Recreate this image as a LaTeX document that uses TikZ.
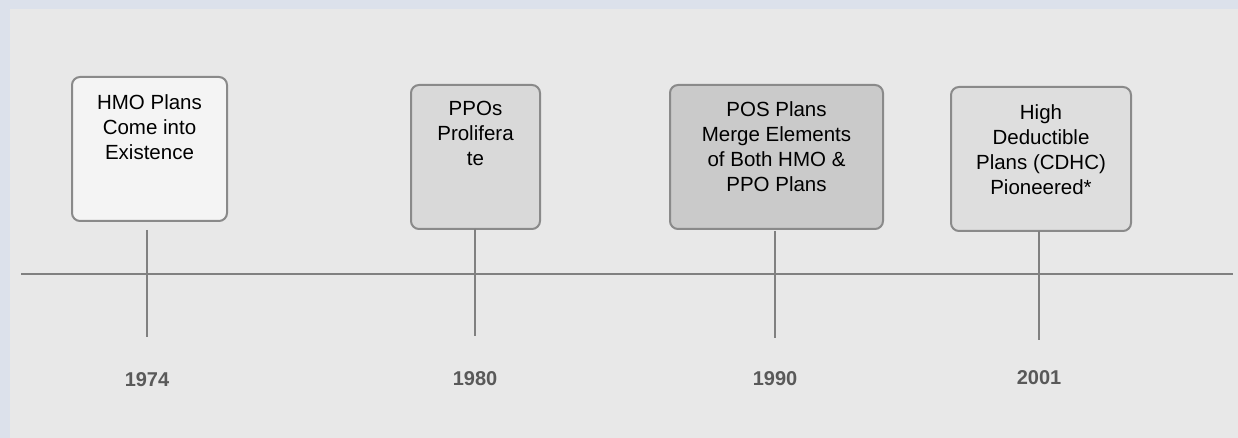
\documentclass[tikz,border=0pt]{standalone}
\usepackage{fontspec}
\setmainfont{Liberation Sans}
\usepackage{tikz}
\usetikzlibrary{positioning}
\usepackage{xcolor}
\definecolor{outerbg}{HTML}{DCE1EB}
\definecolor{panelbg}{HTML}{E8E8E8}
\definecolor{tline}{HTML}{808080}
\definecolor{tborder}{HTML}{8A8A8A}
\definecolor{tyear}{HTML}{595959}
\definecolor{fillA}{HTML}{F4F4F4}
\definecolor{fillB}{HTML}{D9D9D9}
\definecolor{fillC}{HTML}{CACACA}
\definecolor{fillD}{HTML}{DEDEDE}
\tikzset{
  evbox/.style    = {draw=tborder, line width=2pt, rounded corners=8pt,
                     minimum height=144pt, inner sep=0pt},
  evtext/.style   = {align=center, inner sep=0pt,
                     font=\fontsize{20.5}{25}\selectfont},
  yearlbl/.style  = {text=tyear, font=\fontsize{20}{24}\selectfont\bfseries},
  tickline/.style = {draw=tline, line width=2.5pt},
}

\begin{document}
\begin{tikzpicture}[x=1pt,y=-1pt]
% background and panel
\useasboundingbox (0,0) rectangle (1238,438);
\fill[outerbg] (0,0) rectangle (1238,438);
\fill[panelbg] (10,9) rectangle (1238,438);
% time axis
\coordinate (axis-w) at (21,274);
\coordinate (axis-e) at (1233,274);
\draw[tickline] (axis-w) -- (axis-e);
% event boxes, text hung from the top edge
\node[evbox,fill=fillA,minimum width=155pt] (hmo) at (149.5,149) {};
\node[evbox,fill=fillB,minimum width=129pt] (ppo) at (475.5,157) {};
\node[evbox,fill=fillC,minimum width=213pt] (pos) at (776.5,157) {};
\node[evbox,fill=fillD,minimum width=180pt] (hdp) at (1041,159) {};
\node[evtext,below=18pt of hmo.north] {HMO Plans\\Come into\\Existence};
\node[evtext,below=17pt of ppo.north] {PPOs\\Prolifera\\te};
\node[evtext,below=17pt of pos.north] {POS Plans\\Merge Elements\\of Both HMO \&\\PPO Plans};
\node[evtext,below=18pt of hdp.north] {High\\Deductible\\Plans (CDHC)\\Pioneered*};
% ticks down through the axis
\foreach \n/\x/\ya/\yb in {hmo/147/230/337, ppo/475/229/336, pos/775/231/338, hdp/1039/231/340}{%
  \coordinate (\n-top) at (\x,\ya);
  \coordinate (\n-bot) at (\x,\yb);
  \draw[tickline] (\n-top) -- (\n-bot);}
% years
\node[yearlbl] (y1974) at (147,380) {1974};
\node[yearlbl] (y1980) at (475,379) {1980};
\node[yearlbl] (y1990) at (775,379) {1990};
\node[yearlbl] (y2001) at (1039,378) {2001};
\end{tikzpicture}
\end{document}
